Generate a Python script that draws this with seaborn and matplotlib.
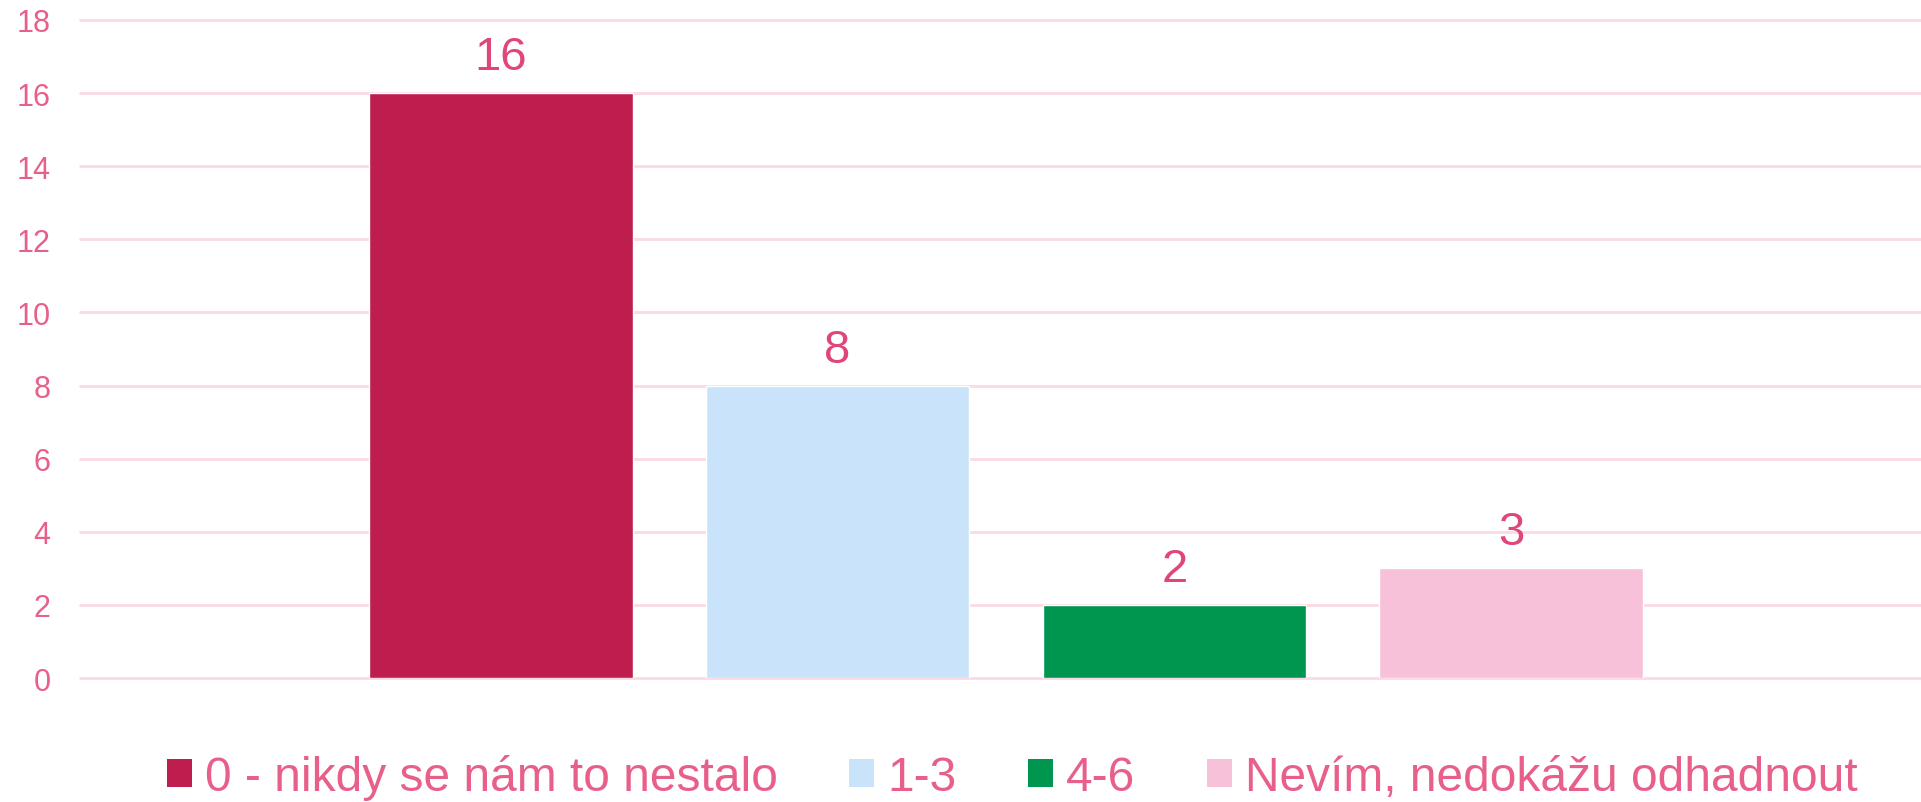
import pandas as pd
import seaborn as sns
import matplotlib.pyplot as plt
from matplotlib.patches import Patch

# Data
categories = ['0 - nikdy se nám to nestalo', '1-3', '4-6', 'Nevím, nedokážu odhadnout']
values = [16, 8, 2, 3]
colors = ['#BE1E4D', '#C9E4FA', '#009650', '#F7C1D9']
yticks = [0, 2, 4, 6, 8, 10, 12, 14, 16, 18]

text_pink = '#E8608A'
label_pink = '#E0457B'
grid_pink = '#F9DAE6'

df = pd.DataFrame({'group': [''] * len(categories), 'kategorie': categories, 'pocet': values})

sns.set_theme(style='white')
plt.rcParams['font.family'] = ['Liberation Sans', 'DejaVu Sans']

fig = plt.figure(figsize=(19.21, 8.03), dpi=100)
ax = fig.add_axes([0.0416, 0.1544, 0.9584, 0.8196])

sns.barplot(data=df, x='group', y='pocet', hue='kategorie', hue_order=categories,
            palette=colors, width=0.732, gap=0.217, saturation=1, legend=False, ax=ax)

for cont in ax.containers:
    ax.bar_label(cont, fmt='%d', padding=10, fontsize=34, color=label_pink)

ax.set_ylim(0, 18)
ax.set_xlim(-0.503, 0.497)
ax.set_yticks(yticks)
ax.set_yticklabels([str(t) for t in yticks], color=text_pink, fontsize=22)
ax.tick_params(axis='y', length=0, pad=21)
ax.set_xticks([])
ax.set_xlabel('')
ax.set_ylabel('')
ax.grid(axis='y', color=grid_pink, linewidth=2)
ax.set_axisbelow(True)
for gl in ax.get_ygridlines():
    gl.set_clip_on(False)
for s in ax.spines.values():
    s.set_visible(False)

handles = [Patch(facecolor=c, edgecolor='none') for c in colors]
fig.legend(handles, categories, loc='center', bbox_to_anchor=(0.527, 0.031), ncol=4,
           frameon=False, fontsize=34.5, labelcolor=text_pink, handlelength=0.52,
           handleheight=0.52, handletextpad=0.27, columnspacing=1.5)

plt.savefig('out.png', dpi=100)
